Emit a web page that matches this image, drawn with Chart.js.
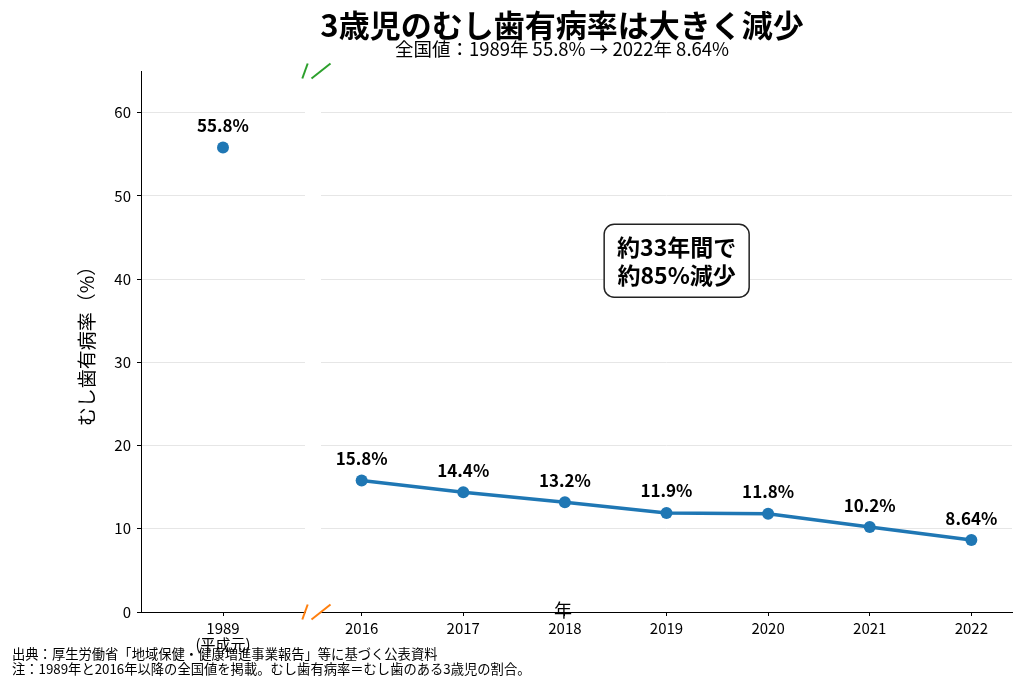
<!DOCTYPE html>
<html lang="ja">
<head>
<meta charset="utf-8">
<title>3歳児のむし歯有病率</title>
<script src="https://cdn.jsdelivr.net/npm/chart.js@4.4.1/dist/chart.umd.min.js"></script>
<style>
  html, body { margin: 0; padding: 0; background: #fff; }
  #wrap { position: relative; width: 1024px; height: 688px; overflow: hidden;
          font-family: "Noto Sans CJK JP", "Noto Sans", sans-serif; color: #000; }
  #wrap canvas { position: absolute; left: 0; top: 0; width: 1024px; height: 688px; }
  .txt { position: absolute; white-space: nowrap; line-height: 1; }
  #title { left: 562px; top: 23px; transform: translate(-50%, -50%); font-size: 31px; font-weight: bold; }
  #subtitle { left: 562px; top: 48px; transform: translate(-50%, -50%); font-size: 18.5px; }
  #xname { left: 563px; top: 609px; transform: translate(-50%, -50%); font-size: 18px; }
  .note { left: 12px; font-size: 13.3px; transform: translateY(-50%); }
</style>
</head>
<body>
<div id="wrap">
  <canvas id="left" width="1024" height="688"></canvas>
  <canvas id="right" width="1024" height="688"></canvas>
  <div class="txt" id="title">3歳児のむし歯有病率は大きく減少</div>
  <div class="txt" id="subtitle">全国値：1989年 55.8% → 2022年 8.64%</div>
  <div class="txt" id="xname">年</div>
  <div class="txt note" style="top:654px">出典：厚生労働省「地域保健・健康増進事業報告」等に基づく公表資料</div>
  <div class="txt note" style="top:669px">注：1989年と2016年以降の全国値を掲載。むし歯有病率＝むし歯のある3歳児の割合。</div>
</div>
<script>
// data
const earlyYears = [1989];
const earlyRates = [55.8];
const earlyTickLabels = [['1989', '(平成元)']];
const recentYears = [2016, 2017, 2018, 2019, 2020, 2021, 2022];
const recentRates = [15.8, 14.4, 13.2, 11.9, 11.8, 10.2, 8.64];
const yTicks = [0, 10, 20, 30, 40, 50, 60];
const noteLines = ['約33年間で', '約85%減少'];

const FONT = '"Noto Sans CJK JP", "Noto Sans", sans-serif';
const BLUE = '#1f77b4';
const GRID = '#e6e6e6';
Chart.defaults.font.family = FONT;
Chart.defaults.color = '#000';

// layout of the two panels (broken axis)
const TOP = 71, XAXIS_H = 76;
const LEFT_END = 305, RIGHT_START = 321, RIGHT_END = 1012;

const valueLabels = {
  id: 'valueLabels',
  afterDatasetsDraw(chart) {
    const ctx = chart.ctx;
    const ds = chart.data.datasets[0];
    const meta = chart.getDatasetMeta(0);
    ctx.save();
    ctx.font = 'bold 17px ' + FONT;
    ctx.fillStyle = '#000';
    ctx.textAlign = 'center';
    ctx.textBaseline = 'middle';
    meta.data.forEach((pt, i) => {
      ctx.fillText(ds.data[i].y + '%', pt.x, pt.y - 22);
    });
    ctx.restore();
  }
};

// the little "//" marks where the axis is broken
function breakMarks(edge, dx) {
  return {
    id: 'breakMarks',
    afterDraw(chart) {
      const ctx = chart.ctx;
      const a = chart.chartArea;
      const x = a[edge];
      ctx.save();
      ctx.lineWidth = 2;
      ctx.strokeStyle = '#2ca02c';
      ctx.beginPath();
      ctx.moveTo(x - dx, a.top + 7.5);
      ctx.lineTo(x + dx, a.top - 7.5);
      ctx.stroke();
      ctx.strokeStyle = '#ff7f0e';
      ctx.beginPath();
      ctx.moveTo(x - dx, a.bottom + 7.5);
      ctx.lineTo(x + dx, a.bottom - 7.5);
      ctx.stroke();
      ctx.restore();
    }
  };
}

const noteBox = {
  id: 'noteBox',
  afterDraw(chart) {
    const ctx = chart.ctx;
    const cx = chart.scales.x.getPixelForValue(2019.1);
    const cy = chart.scales.y.getPixelForValue(42.2);
    const w = 145, h = 73;
    ctx.save();
    ctx.beginPath();
    ctx.roundRect(cx - w / 2, cy - h / 2, w, h, 10);
    ctx.fillStyle = '#fff';
    ctx.fill();
    ctx.lineWidth = 1.5;
    ctx.strokeStyle = '#222';
    ctx.stroke();
    ctx.font = 'bold 23px ' + FONT;
    ctx.fillStyle = '#000';
    ctx.textAlign = 'center';
    ctx.textBaseline = 'middle';
    ctx.fillText(noteLines[0], cx, cy - 14);
    ctx.fillText(noteLines[1], cx, cy + 14);
    ctx.restore();
  }
};

function xAxis(min, max, years, labelFn) {
  return {
    type: 'linear', min: min, max: max,
    afterBuildTicks: s => { s.ticks = years.map(v => ({ value: v })); },
    afterFit: s => { s.height = XAXIS_H; },
    ticks: { callback: labelFn, font: { size: 15, lineHeight: 1.1 }, padding: 4, maxRotation: 0 },
    grid: { drawOnChartArea: false, tickLength: 4, tickColor: '#000' },
    border: { color: '#000', width: 1 }
  };
}

const lineDataset = (xs, ys, showLine) => ({
  data: xs.map((x, i) => ({ x: x, y: ys[i] })),
  showLine: showLine,
  borderColor: BLUE,
  borderWidth: 3.5,
  pointRadius: 6,
  pointBackgroundColor: BLUE,
  pointBorderWidth: 0
});

new Chart(document.getElementById('left'), {
  type: 'line',
  data: { datasets: [lineDataset(earlyYears, earlyRates, false)] },
  options: {
    responsive: false, animation: false, events: [],
    layout: { padding: { left: 0, right: 1024 - LEFT_END, top: TOP, bottom: 0 } },
    plugins: { legend: { display: false }, tooltip: { enabled: false } },
    scales: {
      x: xAxis(1988.5, 1989.5, earlyYears, (v, i) => earlyTickLabels[i]),
      y: {
        min: 0, max: 65,
        afterBuildTicks: s => { s.ticks = yTicks.map(v => ({ value: v })); },
        afterFit: s => { s.width = 141; },
        ticks: { font: { size: 15 }, padding: 6 },
        grid: { color: GRID, tickLength: 4, tickColor: '#000' },
        border: { color: '#000', width: 1 },
        title: { display: true, text: 'むし歯有病率（%）', font: { size: 19 }, padding: { top: 75.6, bottom: 0 } }
      }
    }
  },
  plugins: [valueLabels, breakMarks('right', 2.7)]
});

new Chart(document.getElementById('right'), {
  type: 'line',
  data: { datasets: [lineDataset(recentYears, recentRates, true)] },
  options: {
    responsive: false, animation: false, events: [],
    layout: { padding: { left: RIGHT_START, right: 1024 - RIGHT_END, top: TOP, bottom: 0 } },
    plugins: { legend: { display: false }, tooltip: { enabled: false } },
    scales: {
      x: xAxis(2015.6, 2022.4, recentYears, v => String(v)),
      y: {
        min: 0, max: 65,
        afterBuildTicks: s => { s.ticks = yTicks.map(v => ({ value: v })); },
        afterFit: s => { s.width = 0; },
        ticks: { display: false },
        grid: { color: GRID, drawTicks: false },
        border: { display: false }
      }
    }
  },
  plugins: [valueLabels, breakMarks('left', 9.5), noteBox]
});
</script>
</body>
</html>
